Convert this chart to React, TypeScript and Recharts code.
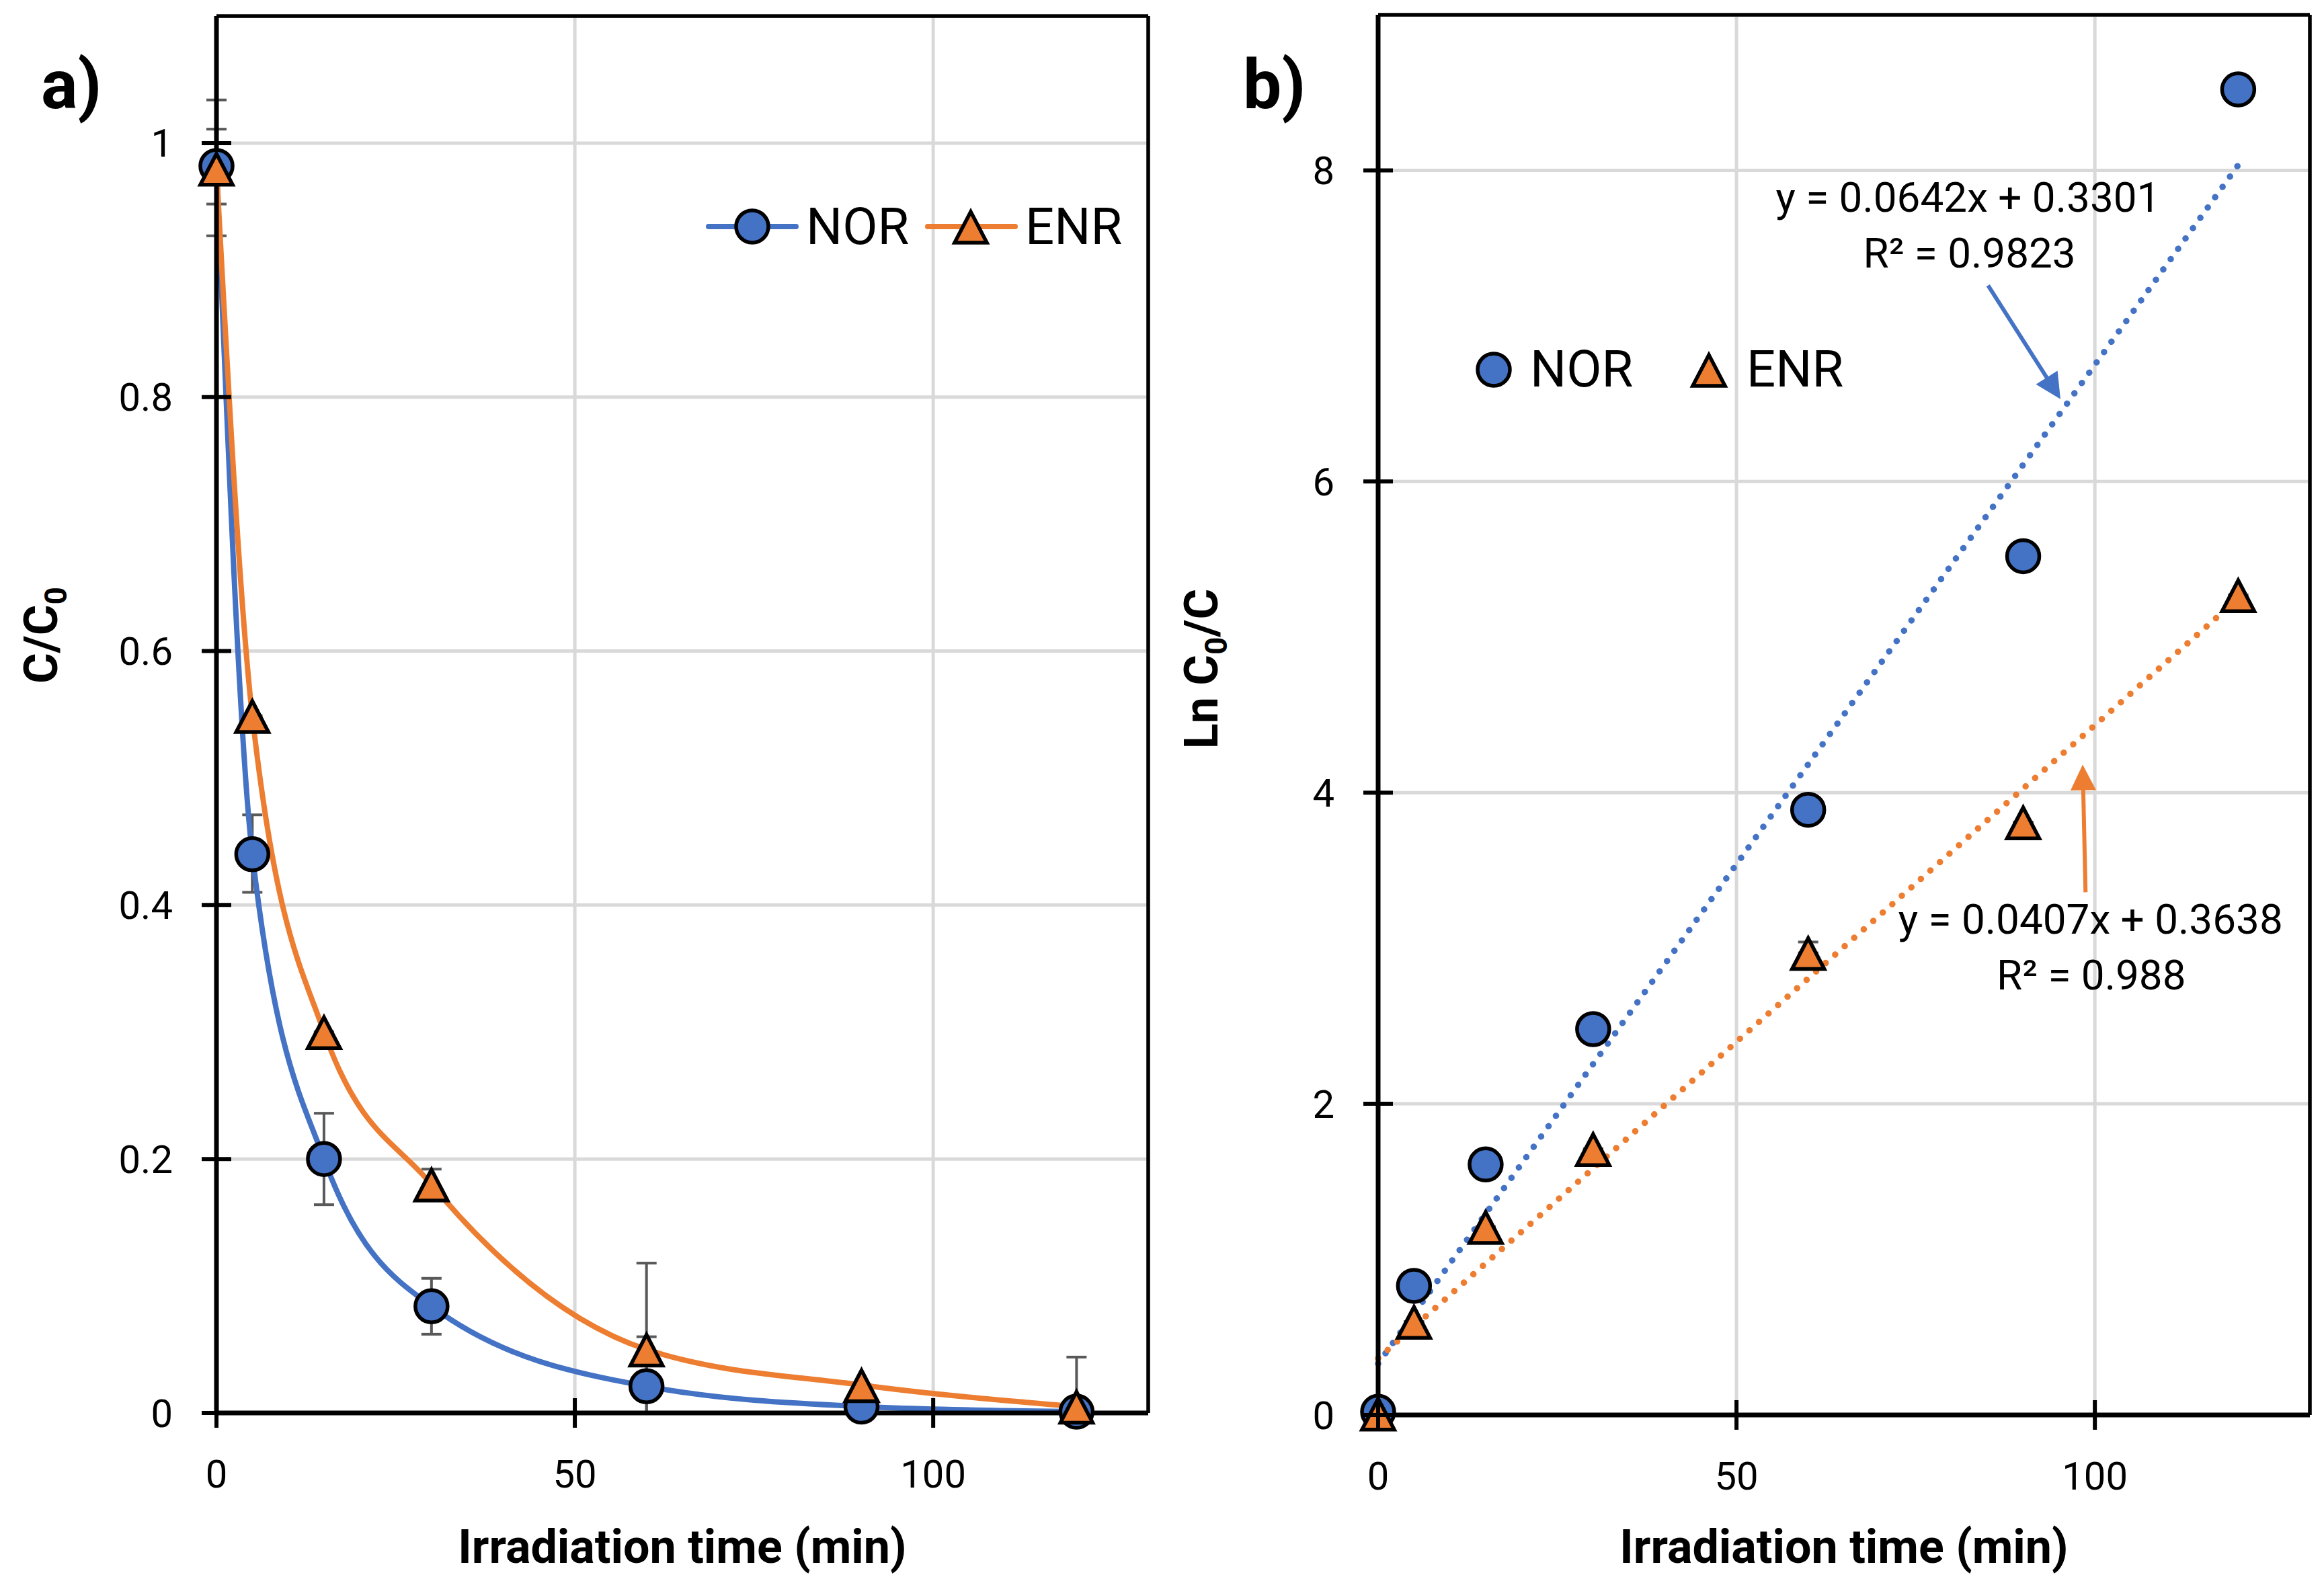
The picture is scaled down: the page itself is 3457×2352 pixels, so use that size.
import React from 'react';
import {
  ComposedChart,
  Line,
  XAxis,
  YAxis,
  CartesianGrid,
  ErrorBar,
  ReferenceLine,
  ReferenceDot,
  Legend,
} from 'recharts';

// ---------- data ----------
const times = [0, 5, 15, 30, 60, 90, 120];
const seriesNames = ['NOR', 'ENR'];
const xTicks = [0, 50, 100];
const xDomain: [number, number] = [0, 130];

// panel a) C/C0
const norRatio = [0.982, 0.44, 0.2, 0.084, 0.021, 0.005, 0.001];
const enrRatio = [0.98, 0.549, 0.3, 0.18, 0.05, 0.022, 0.005];
const norRatioErr: [number, number][] = [
  [0.055, 0.052], [0.03, 0.031], [0.036, 0.036], [0.022, 0.022], [0.021, 0.039], [0.0, 0.0], [0.0, 0.0],
];
const enrRatioErr: [number, number][] = [
  [0.028, 0.031], [0.0, 0.0], [0.0, 0.0], [0.012, 0.012], [0.05, 0.068], [0.0, 0.0], [0.005, 0.039],
];
const yTicksA = [0, 0.2, 0.4, 0.6, 0.8, 1];
const yDomainA: [number, number] = [0, 1.1];

// panel b) Ln C0/C
const norLn = [0.02, 0.83, 1.61, 2.48, 3.89, 5.52, 8.52];
const enrLn = [0.01, 0.6, 1.21, 1.71, 2.97, 3.81, 5.27];
const enrLnErr: [number, number][] = [
  [0, 0], [0, 0], [0, 0], [0, 0], [0, 0.07], [0, 0], [0, 0],
];
const yTicksB = [0, 2, 4, 6, 8];
const yDomainB: [number, number] = [0, 9];
const norFit = [0.0642, 0.3301]; // slope, intercept
const enrFit = [0.0407, 0.3638];
const fitRange = [0, 120];
const norFitLabel = ['y = 0.0642x + 0.3301', 'R² = 0.9823'];
const enrFitLabel = ['y = 0.0407x + 0.3638', 'R² = 0.988'];
// label anchor points (data coords: x, y of cap centre)
const norFitLabelPos = [[82.3, 7.83], [82.5, 7.47]];
const enrFitLabelPos = [[99.4, 3.19], [99.5, 2.83]];
// arrows (from, to) in data coords
const norArrow = [{ x: 85.1, y: 7.26 }, { x: 95.2, y: 6.53 }];
const enrArrow = [{ x: 98.7, y: 3.36 }, { x: 98.3, y: 4.18 }];

const dataA = times.map((t, i) => ({
  t,
  nor: norRatio[i],
  enr: enrRatio[i],
  norErr: norRatioErr[i],
  enrErr: enrRatioErr[i],
}));
const dataB = times.map((t, i) => ({ t, nor: norLn[i], enr: enrLn[i], enrErr: enrLnErr[i] }));
const fitData = (f: number[]) => fitRange.map((t) => ({ t, fit: f[0] * t + f[1] }));

// ---------- style ----------
const FONT = "Roboto, 'Noto Sans', 'DejaVu Sans', sans-serif";
const BLUE = '#4472C4';
const ORANGE = '#ED7D31';
const GRID = '#D9D9D9';
const ERRC = '#595959';
const PAGE_W = 3457;
const PAGE_H = 2352;
const TICK_FS = 58;
const TITLE_FS = 70;
const LEG_FS = 76;
const EQ_FS = 62;
const Y_AXIS_W = 200;
const X_AXIS_H = 100;

const PANEL_A = { left: 0, width: 1728, plotLeft: 322, plotTop: 24, plotRight: 1708, plotBottom: 2102 };
const PANEL_B = { left: 1728, width: 1729, plotLeft: 322, plotTop: 22, plotRight: 1708, plotBottom: 2105 };
const marginFor = (p: typeof PANEL_A) => ({
  top: p.plotTop,
  right: p.width - p.plotRight,
  bottom: PAGE_H - p.plotBottom - X_AXIS_H,
  left: p.plotLeft - Y_AXIS_W,
});

// ---------- pieces ----------
const YTick = (props: any) => {
  const { x, y, payload } = props;
  return (
    <g>
      <line x1={x - 22} x2={x + 22} y1={y} y2={y} stroke="#000" strokeWidth={6} />
      <text x={x - 65} y={y + 0.355 * TICK_FS} textAnchor="end" fontFamily={FONT} fontSize={TICK_FS} fill="#000">
        {String(payload.value)}
      </text>
    </g>
  );
};

const XTick = (props: any) => {
  const { x, y, payload } = props;
  return (
    <g>
      <line x1={x} x2={x} y1={y - 22} y2={y + 22} stroke="#000" strokeWidth={6} />
      <text x={x} y={y + 90 + 0.355 * TICK_FS} textAnchor="middle" fontFamily={FONT} fontSize={TICK_FS} fill="#000">
        {String(payload.value)}
      </text>
    </g>
  );
};

const circlePath = (cx: number, cy: number, key?: any) => (
  <circle key={key} cx={cx} cy={cy} r={24} fill={BLUE} stroke="#000" strokeWidth={5.5} />
);
const trianglePath = (cx: number, cy: number, key?: any) => (
  <polygon
    key={key}
    points={`${cx},${cy - 22} ${cx + 24},${cy + 24} ${cx - 24},${cy + 24}`}
    fill={ORANGE}
    stroke="#000"
    strokeWidth={5.5}
    strokeLinejoin="miter"
  />
);

const CircleDot = (props: any) => {
  const { cx, cy, index } = props;
  if (cx == null || cy == null) return <g key={index} />;
  return circlePath(cx, cy, index);
};
const TriangleDot = (props: any) => {
  const { cx, cy, index } = props;
  if (cx == null || cy == null) return <g key={index} />;
  return trianglePath(cx, cy, index);
};

const xTitle = (p: typeof PANEL_A) => () => (
  <text
    x={(p.plotLeft + p.plotRight) / 2}
    y={2300 + 0.355 * TITLE_FS}
    textAnchor="middle"
    fontFamily={FONT}
    fontWeight={700}
    fontSize={TITLE_FS}
    fill="#000"
  >
    Irradiation time (min)
  </text>
);

const yTitleA = () => {
  const cx = 60 + 0.355 * TITLE_FS;
  const cy = 945;
  return (
    <text
      x={cx}
      y={cy}
      transform={`rotate(-90 ${cx} ${cy})`}
      textAnchor="middle"
      fontFamily={FONT}
      fontWeight={700}
      fontSize={TITLE_FS}
      fill="#000"
    >
      C/C
      <tspan fontSize={46} dy={14}>0</tspan>
    </text>
  );
};

const yTitleB = () => {
  const cx = 58 + 0.355 * TITLE_FS;
  const cy = 995;
  return (
    <text
      x={cx}
      y={cy}
      transform={`rotate(-90 ${cx} ${cy})`}
      textAnchor="middle"
      fontFamily={FONT}
      fontWeight={700}
      fontSize={TITLE_FS}
      fill="#000"
    >
      Ln C
      <tspan fontSize={46} dy={14}>0</tspan>
      <tspan dy={-14}>/C</tspan>
    </text>
  );
};

const LegendA = () => (
  <svg width={660} height={75} style={{ overflow: 'visible' }}>
    <line x1={14} x2={144} y1={37} y2={37} stroke={BLUE} strokeWidth={8} strokeLinecap="round" />
    {circlePath(79, 37)}
    <text x={159} y={36 + 0.355 * LEG_FS} fontFamily={FONT} fontSize={LEG_FS} fill="#000">{seriesNames[0]}</text>
    <line x1={340} x2={470} y1={37} y2={37} stroke={ORANGE} strokeWidth={8} strokeLinecap="round" />
    {trianglePath(404, 37)}
    <text x={485} y={36 + 0.355 * LEG_FS} fontFamily={FONT} fontSize={LEG_FS} fill="#000">{seriesNames[1]}</text>
  </svg>
);

const LegendB = () => (
  <svg width={600} height={80} style={{ overflow: 'visible' }}>
    {circlePath(44, 40)}
    <text x={98} y={38 + 0.355 * LEG_FS} fontFamily={FONT} fontSize={LEG_FS} fill="#000">{seriesNames[0]}</text>
    {trianglePath(364, 40)}
    <text x={420} y={38 + 0.355 * LEG_FS} fontFamily={FONT} fontSize={LEG_FS} fill="#000">{seriesNames[1]}</text>
  </svg>
);

const eqText = (text: string) => (props: any) => {
  const { cx, cy } = props;
  return (
    <text x={cx} y={cy + 0.355 * EQ_FS} textAnchor="middle" fontFamily={FONT} fontSize={EQ_FS} fill="#000">
      {text}
    </text>
  );
};

const makeArrow = (color: string) => (props: any) => {
  const { x1, y1, x2, y2 } = props;
  const dx = x2 - x1;
  const dy = y2 - y1;
  const len = Math.hypot(dx, dy) || 1;
  const ux = dx / len;
  const uy = dy / len;
  const headL = 38;
  const headW = 19;
  const bx = x2 - ux * headL;
  const by = y2 - uy * headL;
  const px = -uy;
  const py = ux;
  return (
    <g>
      <line x1={x1} y1={y1} x2={bx + ux * 4} y2={by + uy * 4} stroke={color} strokeWidth={6} />
      <polygon
        points={`${x2},${y2} ${bx + px * headW},${by + py * headW} ${bx - px * headW},${by - py * headW}`}
        fill={color}
      />
    </g>
  );
};

const axisLineStyle = { stroke: '#000', strokeWidth: 7 };

const PanelA = () => (
  <div style={{ position: 'absolute', left: PANEL_A.left, top: 0 }}>
    <ComposedChart width={PANEL_A.width} height={PAGE_H} data={dataA} margin={marginFor(PANEL_A)}>
      <CartesianGrid stroke={GRID} strokeWidth={5} />
      <XAxis
        type="number"
        dataKey="t"
        domain={xDomain}
        ticks={xTicks}
        interval={0}
        height={X_AXIS_H}
        tickSize={0}
        tickMargin={0}
        tickLine={false}
        axisLine={axisLineStyle}
        tick={XTick}
        label={xTitle(PANEL_A)}
      />
      <YAxis
        type="number"
        domain={yDomainA}
        ticks={yTicksA}
        interval={0}
        width={Y_AXIS_W}
        tickSize={0}
        tickMargin={0}
        tickLine={false}
        axisLine={axisLineStyle}
        tick={YTick}
        label={yTitleA}
      />
      <ReferenceLine y={yDomainA[1]} stroke="#000" strokeWidth={5.5} />
      <ReferenceLine x={xDomain[1]} stroke="#000" strokeWidth={5.5} />
      <Line
        name={seriesNames[0]}
        dataKey="nor"
        type="monotone"
        stroke={BLUE}
        strokeWidth={8}
        dot={CircleDot}
        activeDot={false}
        isAnimationActive={false}
      >
        <ErrorBar dataKey="norErr" direction="y" width={15} stroke={ERRC} strokeWidth={4} />
      </Line>
      <Line
        name={seriesNames[1]}
        dataKey="enr"
        type="monotone"
        stroke={ORANGE}
        strokeWidth={8}
        dot={TriangleDot}
        activeDot={false}
        isAnimationActive={false}
      >
        <ErrorBar dataKey="enrErr" direction="y" width={15} stroke={ERRC} strokeWidth={4} />
      </Line>
      <Legend
        layout="vertical"
        align="center"
        verticalAlign="middle"
        wrapperStyle={{ left: 1040, top: 300, width: 660, height: 75 }}
        content={() => <LegendA />}
      />
    </ComposedChart>
  </div>
);

const PanelB = () => (
  <div style={{ position: 'absolute', left: PANEL_B.left, top: 0 }}>
    <ComposedChart width={PANEL_B.width} height={PAGE_H} data={dataB} margin={marginFor(PANEL_B)}>
      <CartesianGrid stroke={GRID} strokeWidth={5} />
      <XAxis
        type="number"
        dataKey="t"
        domain={xDomain}
        ticks={xTicks}
        interval={0}
        height={X_AXIS_H}
        tickSize={0}
        tickMargin={0}
        tickLine={false}
        axisLine={axisLineStyle}
        tick={XTick}
        label={xTitle(PANEL_B)}
      />
      <YAxis
        type="number"
        domain={yDomainB}
        ticks={yTicksB}
        interval={0}
        width={Y_AXIS_W}
        tickSize={0}
        tickMargin={0}
        tickLine={false}
        axisLine={axisLineStyle}
        tick={YTick}
        label={yTitleB}
      />
      <ReferenceLine y={yDomainB[1]} stroke="#000" strokeWidth={5.5} />
      <ReferenceLine x={xDomain[1]} stroke="#000" strokeWidth={5.5} />
      <Line
        name={seriesNames[0]}
        dataKey="nor"
        stroke="none"
        dot={CircleDot}
        activeDot={false}
        isAnimationActive={false}
      />
      <Line
        name={seriesNames[1]}
        dataKey="enr"
        stroke="none"
        dot={TriangleDot}
        activeDot={false}
        isAnimationActive={false}
      >
        <ErrorBar dataKey="enrErr" direction="y" width={15} stroke={ERRC} strokeWidth={4} />
      </Line>
      <Line
        data={fitData(norFit)}
        dataKey="fit"
        type="linear"
        stroke={BLUE}
        strokeWidth={9.5}
        strokeDasharray="0.1 18.8"
        strokeLinecap="round"
        dot={false}
        activeDot={false}
        legendType="none"
        isAnimationActive={false}
      />
      <Line
        data={fitData(enrFit)}
        dataKey="fit"
        type="linear"
        stroke={ORANGE}
        strokeWidth={9.5}
        strokeDasharray="0.1 18.8"
        strokeLinecap="round"
        dot={false}
        activeDot={false}
        legendType="none"
        isAnimationActive={false}
      />
      {norFitLabel.map((txt, i) => (
        <ReferenceDot key={'n' + i} x={norFitLabelPos[i][0]} y={norFitLabelPos[i][1]} r={0} shape={eqText(txt)} />
      ))}
      {enrFitLabel.map((txt, i) => (
        <ReferenceDot key={'e' + i} x={enrFitLabelPos[i][0]} y={enrFitLabelPos[i][1]} r={0} shape={eqText(txt)} />
      ))}
      <ReferenceLine segment={norArrow} shape={makeArrow(BLUE)} />
      <ReferenceLine segment={enrArrow} shape={makeArrow(ORANGE)} />
      <Legend
        layout="vertical"
        align="center"
        verticalAlign="middle"
        wrapperStyle={{ left: 450, top: 510, width: 600, height: 80 }}
        content={() => <LegendB />}
      />
    </ComposedChart>
  </div>
);

export default function App() {
  return (
    <div
      style={{
        position: 'absolute',
        left: 0,
        top: 0,
        width: PAGE_W,
        height: PAGE_H,
        background: '#fff',
        overflow: 'hidden',
      }}
    >
      <PanelA />
      <PanelB />
      <svg
        width={PAGE_W}
        height={PAGE_H}
        style={{ position: 'absolute', left: 0, top: 0, pointerEvents: 'none' }}
      >
        <text x={61} y={161} fontFamily={FONT} fontWeight={700} fontSize={102} fill="#000">a)</text>
        <text x={1849} y={161} fontFamily={FONT} fontWeight={700} fontSize={102} fill="#000">b)</text>
      </svg>
    </div>
  );
}
